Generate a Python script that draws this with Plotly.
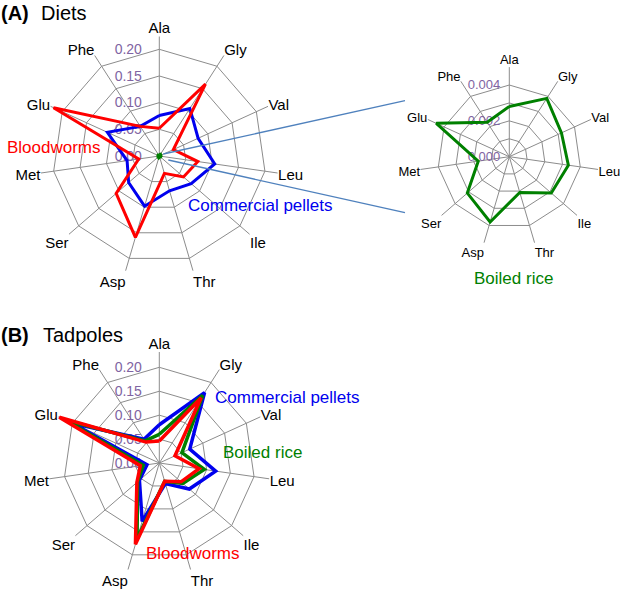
import plotly.graph_objects as go

W, H = 622, 589

categories = ['Ala', 'Gly', 'Val', 'Leu', 'Ile', 'Thr', 'Asp', 'Ser', 'Met', 'Glu', 'Phe']

# (A) Diets
diet_bloodworms = [0.052, 0.160, 0.029, 0.073, 0.060, 0.034, 0.159, 0.107, 0.039, 0.218, 0.066]
diet_pellets = [0.076, 0.106, 0.080, 0.105, 0.079, 0.068, 0.098, 0.076, 0.061, 0.107, 0.066]
diet_rice = [0.0028, 0.00387, 0.0032, 0.00333, 0.0031, 0.00208, 0.0038, 0.0031, 0.00175, 0.00448, 0.00228]

# (B) Tadpoles
tad_pellets = [0.080, 0.175, 0.070, 0.119, 0.083, 0.045, 0.127, 0.055, 0.026, 0.200, 0.059]
tad_rice = [0.060, 0.168, 0.052, 0.095, 0.065, 0.040, 0.165, 0.060, 0.034, 0.215, 0.055]
tad_bloodworms = [0.046, 0.162, 0.036, 0.084, 0.060, 0.040, 0.177, 0.062, 0.040, 0.230, 0.052]

main_ticks = [0, 0.05, 0.10, 0.15, 0.20]
main_ticktext = ['0.00', '0.05', '0.10', '0.15', '0.20']
inset_ticks = [0, 0.001, 0.002, 0.003, 0.004]
inset_ticktext = ['0.000', '', '0.002', '', '0.004']

RED = '#ff0000'
BLUE = '#0000ee'
GREEN = '#008000'
GRID = '#8c8c8c'
PURPLE = '#8064a2'
FONT = 'Liberation Sans, Arial, sans-serif'


def closed(v):
    return list(v) + [v[0]]


cats_closed = closed(categories)


def domain(cx, cy, r):
    return dict(x=[(cx - r) / W, (cx + r) / W], y=[1 - (cy + r) / H, 1 - (cy - r) / H])


def polar_layout(cx, cy, r, rmax, tickvals, ticktext, catsize, ticksize, ticklen):
    return dict(
        domain=domain(cx, cy, r),
        bgcolor='rgba(0,0,0,0)',
        gridshape='linear',
        angularaxis=dict(
            rotation=90, direction='clockwise', showline=False, ticks='',
            gridcolor=GRID, gridwidth=1.3,
            tickfont=dict(family=FONT, size=catsize, color='black'),
        ),
        radialaxis=dict(
            range=[0, rmax], angle=90, side='counterclockwise', tickangle=90,
            tickvals=tickvals, ticktext=ticktext, showline=False,
            ticks='outside', ticklen=ticklen, tickcolor='rgba(0,0,0,0)',
            gridcolor=GRID, gridwidth=1.3, layer='below traces',
            tickfont=dict(family=FONT, size=ticksize, color=PURPLE),
        ),
    )


fig = go.Figure()


def add(vals, color, width, sub):
    fig.add_trace(go.Scatterpolar(
        r=closed(vals), theta=cats_closed, mode='lines',
        line=dict(color=color, width=width), subplot=sub, showlegend=False,
        hoverinfo='skip'))


add(diet_pellets, BLUE, 3, 'polar')
add(diet_bloodworms, RED, 3, 'polar')
add(diet_rice, GREEN, 3, 'polar')
add(diet_rice, GREEN, 3, 'polar2')
add(tad_pellets, BLUE, 3.5, 'polar3')
add(tad_rice, GREEN, 3.5, 'polar3')
add(tad_bloodworms, RED, 3.5, 'polar3')

fig.update_layout(
    width=W, height=H,
    margin=dict(l=0, r=0, t=0, b=0),
    paper_bgcolor='white',
    polar=polar_layout(159.3, 156.0, 119.5, 0.224, main_ticks, main_ticktext, 15, 14, 12),
    polar2=polar_layout(509.3, 156.7, 89.6, 0.005, inset_ticks, inset_ticktext, 13, 13, 4),
    polar3=polar_layout(159.3, 463.0, 111.0, 0.232, main_ticks, main_ticktext, 15, 14, 12),
)


def px_line(x0, y0, x1, y1):
    fig.add_shape(type='line', xref='paper', yref='paper',
                  x0=x0 / W, y0=1 - y0 / H, x1=x1 / W, y1=1 - y1 / H,
                  line=dict(color='#4f81bd', width=1.3))


px_line(163.3, 154.0, 405.0, 100.7)
px_line(168.3, 160.0, 405.0, 212.7)


def text(x, y, s, color='black', size=17, bold=False):
    fig.add_annotation(xref='paper', yref='paper', x=x / W, y=1 - y / H,
                       text=('<b>%s</b>' % s) if bold else s, showarrow=False,
                       xanchor='left', yanchor='middle',
                       font=dict(family=FONT, size=size, color=color))


text(-1, 13, '(A)', size=20, bold=True)
text(39, 13, 'Diets', size=20)
text(-1, 335, '(B)', size=20, bold=True)
text(41, 335, 'Tadpoles', size=20)

text(5, 147, 'Bloodworms', RED)
text(186, 205, 'Commercial pellets', BLUE)
text(472, 278, 'Boiled rice', GREEN)
text(213, 397, 'Commercial pellets', BLUE)
text(221, 452, 'Boiled rice', GREEN)
text(144, 553, 'Bloodworms', RED)

fig.write_html('out.html', config={'displayModeBar': False},
               post_script="document.body.style.margin='0px';document.body.style.overflow='hidden';")
